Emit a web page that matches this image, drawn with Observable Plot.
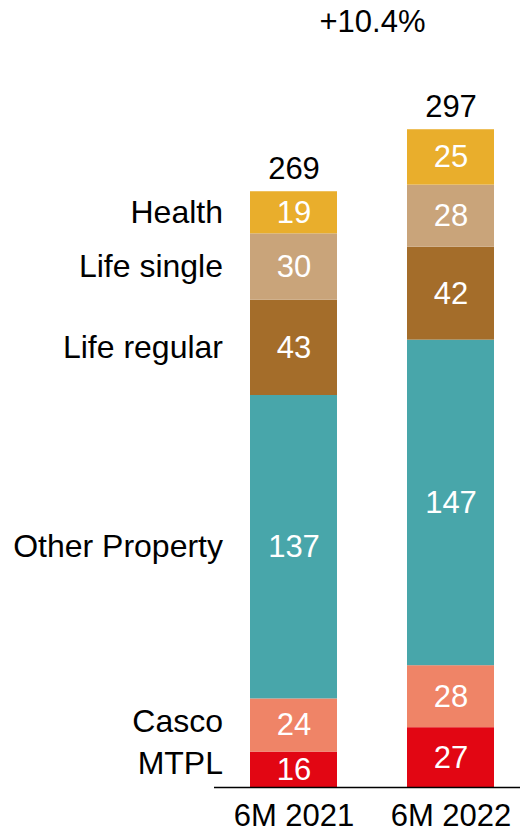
<!DOCTYPE html>
<html>
<head>
<meta charset="utf-8">
<script src="https://cdn.jsdelivr.net/npm/d3@7"></script>
<script src="https://cdn.jsdelivr.net/npm/@observablehq/plot@0.6"></script>
<style>
  html, body { margin: 0; padding: 0; background: #fff; }
  #chart svg { display: block; }
</style>
</head>
<body>
<div id="chart"></div>
<script>
const periods = ["6M 2021", "6M 2022"];
const segments = ["MTPL", "Casco", "Other Property", "Life regular", "Life single", "Health"];
const values2021 = [16, 24, 137, 43, 30, 19];
const values2022 = [27, 28, 147, 42, 28, 25];
const totals = [269, 297];
const growthLabel = "+10.4%";
const segmentColors = ["#E20613", "#EF8467", "#48A6AA", "#A46D2A", "#C9A47A", "#E9AE2C"];

const rows = [];
[values2021, values2022].forEach((vals, i) => {
  vals.forEach((v, j) => rows.push({period: periods[i], segment: segments[j], value: v}));
});
const totalRows = periods.map((p, i) => ({period: p, total: totals[i]}));
const firstRows = rows.filter(d => d.period === periods[0]);

const font = "Liberation Sans, Arial, Helvetica, sans-serif";
const fs = 31;
const stackOpts = {x: "period", y: "value", z: "segment", order: segments};
const only = names => d => names.includes(d.segment) ? d.segment : "";
const labelOpts = {...stackOpts, textAnchor: "end", dx: -71, fill: "#000", fontSize: 32};

const chart = Plot.plot({
  width: 520,
  height: 832,
  marginLeft: 214,
  marginRight: 0,
  marginTop: 34,
  marginBottom: 45,
  style: {fontFamily: font, fontSize: fs + "px", background: "#fff", color: "#000"},
  x: {domain: periods, paddingInner: 0.443, paddingOuter: 0.19, align: 0.583, label: null},
  y: {domain: [0, 340], axis: null},
  color: {domain: segments, range: segmentColors},
  marks: [
    Plot.barY(rows, Plot.stackY({...stackOpts, fill: "segment"})),
    Plot.text(rows, Plot.stackY({...stackOpts, text: d => String(d.value), fill: "#fff", fontSize: fs})),
    Plot.text(totalRows, {x: "period", y: "total", text: d => String(d.total), fill: "#000", fontSize: fs, dy: -23}),
    Plot.text(firstRows, Plot.stackY({...labelOpts, text: only(["Health", "Life single", "Life regular", "Other Property"])})),
    Plot.text(firstRows, Plot.stackY({...labelOpts, text: only(["Casco"]), dy: -4})),
    Plot.text(firstRows, Plot.stackY({...labelOpts, text: only(["MTPL"]), dy: -6})),
    Plot.text([growthLabel], {frameAnchor: "top", lineAnchor: "middle", text: d => d, dx: 5, dy: -12, fill: "#000", fontSize: fs}),
    Plot.ruleY([0], {stroke: "#000", strokeWidth: 1.5}),
    Plot.axisX({tickSize: 0, tickPadding: 16, fontSize: fs, fill: "#000", label: null})
  ]
});
document.getElementById("chart").appendChild(chart);
</script>
</body>
</html>
